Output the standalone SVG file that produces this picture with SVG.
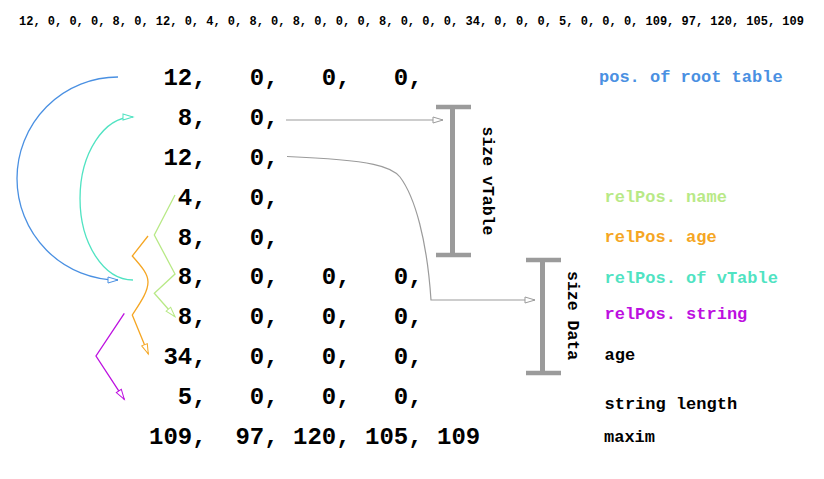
<svg xmlns="http://www.w3.org/2000/svg" width="824" height="479" viewBox="0 0 824 479">
<style>
text{font-family:"Liberation Mono","Courier New",monospace;font-weight:bold}
.num{font-size:24px;fill:#000;white-space:pre}
.top{font-size:12px;fill:#000}
.lbl{font-size:17px}
.vl{font-size:16.5px;fill:#000}
.bar{stroke:#9b9b9b;stroke-width:4.5;fill:none}
.barv{stroke:#9b9b9b;stroke-width:5;fill:none}
.gray{stroke:#9b9b9b;stroke-width:1.2;fill:none}
.c{fill:none;stroke-width:1.3}
</style>
<defs>
<marker id="mg" markerUnits="userSpaceOnUse" markerWidth="14" markerHeight="10" refX="11" refY="4" orient="auto"><path d="M1,1 L11,4 L1,7 Z" fill="#fff" stroke="#9b9b9b" stroke-width="1"/></marker>
<marker id="mb" markerUnits="userSpaceOnUse" markerWidth="14" markerHeight="10" refX="11" refY="4" orient="auto"><path d="M1,1 L11,4 L1,7 Z" fill="#fff" stroke="#4a90e2" stroke-width="1"/></marker>
<marker id="mt" markerUnits="userSpaceOnUse" markerWidth="14" markerHeight="10" refX="11" refY="4" orient="auto"><path d="M1,1 L11,4 L1,7 Z" fill="#fff" stroke="#50e3c2" stroke-width="1"/></marker>
<marker id="mgr" markerUnits="userSpaceOnUse" markerWidth="14" markerHeight="10" refX="11" refY="4" orient="auto"><path d="M1,1 L11,4 L1,7 Z" fill="#fff" stroke="#b8e986" stroke-width="1"/></marker>
<marker id="mo" markerUnits="userSpaceOnUse" markerWidth="14" markerHeight="10" refX="11" refY="4" orient="auto"><path d="M1,1 L11,4 L1,7 Z" fill="#fff" stroke="#f5a623" stroke-width="1"/></marker>
<marker id="mp" markerUnits="userSpaceOnUse" markerWidth="14" markerHeight="10" refX="11" refY="4" orient="auto"><path d="M1,1 L11,4 L1,7 Z" fill="#fff" stroke="#bd10e0" stroke-width="1"/></marker>
</defs>
<rect width="824" height="479" fill="#fff"/>
<g id="bytes-line"><text class="top" x="19" y="25">12, 0, 0, 0, 8, 0, 12, 0, 4, 0, 8, 0, 8, 0, 0, 0, 8, 0, 0, 0, 34, 0, 0, 0, 5, 0, 0, 0, 109, 97, 120, 105, 109</text></g>
<g id="rows">
<g id="row1"><text class="num" xml:space="preserve" x="149" y="85"> 12,   0,   0,   0,</text></g>
<g id="row2"><text class="num" xml:space="preserve" x="149" y="125">  8,   0,</text></g>
<g id="row3"><text class="num" xml:space="preserve" x="149" y="165"> 12,   0,</text></g>
<g id="row4"><text class="num" xml:space="preserve" x="149" y="205">  4,   0,</text></g>
<g id="row5"><text class="num" xml:space="preserve" x="149" y="245">  8,   0,</text></g>
<g id="row6"><text class="num" xml:space="preserve" x="149" y="284">  8,   0,   0,   0,</text></g>
<g id="row7"><text class="num" xml:space="preserve" x="149" y="324">  8,   0,   0,   0,</text></g>
<g id="row8"><text class="num" xml:space="preserve" x="149" y="364"> 34,   0,   0,   0,</text></g>
<g id="row9"><text class="num" xml:space="preserve" x="149" y="404">  5,   0,   0,   0,</text></g>
<g id="row10"><text class="num" xml:space="preserve" x="149" y="444">109,  97, 120, 105, 109</text></g>
</g>
<g id="labels">
<g id="lbl-root"><text class="lbl" x="599" y="82" fill="#4a90e2">pos. of root table</text></g>
<g id="lbl-name"><text class="lbl" x="604.5" y="202" fill="#b8e986">relPos. name</text></g>
<g id="lbl-age"><text class="lbl" x="604.5" y="242" fill="#f5a623">relPos. age</text></g>
<g id="lbl-vtable"><text class="lbl" x="604.5" y="283" fill="#50e3c2">relPos. of vTable</text></g>
<g id="lbl-string"><text class="lbl" x="604.5" y="319" fill="#bd10e0">relPos. string</text></g>
<g id="lbl-agev"><text class="lbl" x="604.5" y="360" fill="#000">age</text></g>
<g id="lbl-len"><text class="lbl" x="604.5" y="409" fill="#000">string length</text></g>
<g id="lbl-maxim"><text class="lbl" x="604" y="442" fill="#000">maxim</text></g>
</g>
<g id="bracket-vtable">
<path class="bar" d="M436,107 H471 M436,255 H471"/>
<path class="barv" d="M452.5,107 V255"/>
<text class="vl" transform="translate(482.5,126.5) rotate(90)">size vTable</text>
</g>
<g id="bracket-data">
<path class="bar" d="M526,260 H561 M526,373 H561"/>
<path class="barv" d="M542.5,260 V373"/>
<text class="vl" transform="translate(568,271) rotate(90)">size Data</text>
</g>
<g id="connectors">
<path class="gray" d="M286,120 H443" marker-end="url(#mg)"/>
<path class="gray" d="M287,156.5 C375,160 392,167 400,177 C415,197 427,240 431,300 L535,300" marker-end="url(#mg)"/>
<path class="c" stroke="#4a90e2" d="M118,77 A101,101.5 0 0 0 118,280" marker-end="url(#mb)"/>
<path class="c" stroke="#50e3c2" d="M133,280 A53,81.5 0 0 1 133,117" marker-end="url(#mt)"/>
<path class="c" stroke="#b8e986" d="M175,195 L154.3,235 L175,274 L154.3,293.3 L175,316.7" marker-end="url(#mgr)"/>
<path class="c" stroke="#f5a623" d="M148,236 L132.3,256 C142,267 148,274 148,282 C148,292 140,303 132.3,315 L148.3,354" marker-end="url(#mo)"/>
<path class="c" stroke="#bd10e0" d="M124.3,313.3 L96,356 L124.3,399.3" marker-end="url(#mp)"/>
</g>
</svg>
